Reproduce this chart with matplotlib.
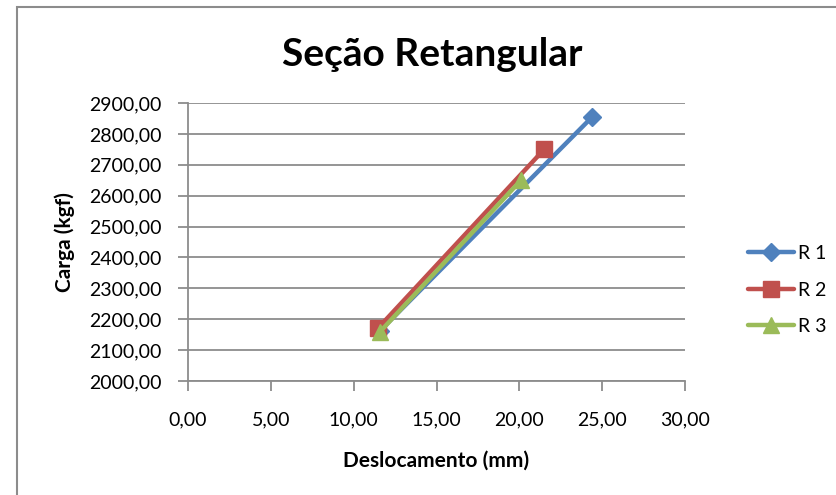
import matplotlib
matplotlib.use("Agg")
import matplotlib.pyplot as plt
from matplotlib.patches import Rectangle
from matplotlib.ticker import FuncFormatter, MultipleLocator

plt.rcParams['font.family'] = ['Lato', 'DejaVu Sans']

# data
r1_x = [11.6, 24.4]
r1_y = [2163, 2855]
r2_x = [11.45, 21.5]
r2_y = [2170, 2750]
r3_x = [11.6, 20.1]
r3_y = [2160, 2650]

series = [
    ("R 1", r1_x, r1_y, "#4F81BD", "D"),
    ("R 2", r2_x, r2_y, "#C0504D", "s"),
    ("R 3", r3_x, r3_y, "#9BBB59", "^"),
]

fig = plt.figure(figsize=(8.36, 4.95), dpi=100)
W, H = 836, 495
ax = fig.add_axes([188 / W, 1 - 381 / H, (685 - 188) / W, (381 - 103) / H])

# chart frame
fig.patches.append(Rectangle((17 / W, -0.05), 1.05, 1 - 7 / H + 0.05,
                             transform=fig.transFigure, fill=False,
                             edgecolor="#8c8c8c", linewidth=1.5))

for name, xs, ys, col, mk in series:
    ms = 9 if mk == "D" else 11
    ax.plot(xs, ys, color=col, lw=3.2, marker=mk, markersize=ms,
            markeredgecolor=col, label=name, solid_capstyle="round")

ax.set_xlim(0, 30)
ax.set_ylim(2000, 2900)
ax.xaxis.set_major_locator(MultipleLocator(5))
ax.yaxis.set_major_locator(MultipleLocator(100))
fmt = FuncFormatter(lambda v, p: f"{v:.2f}".replace(".", ","))
ax.xaxis.set_major_formatter(fmt)
ax.yaxis.set_major_formatter(fmt)

ax.grid(axis="y", color="#8c8c8c", lw=1.3)
ax.set_axisbelow(True)
for s in ["top", "right"]:
    ax.spines[s].set_visible(False)
for s in ["left", "bottom"]:
    ax.spines[s].set_color("#8c8c8c")
    ax.spines[s].set_linewidth(1.3)
ax.tick_params(axis="y", direction="out", length=7, width=1.3, color="#8c8c8c",
               labelsize=14, pad=12)
ax.tick_params(axis="x", direction="out", length=7, width=1.3, color="#8c8c8c",
               labelsize=14, pad=15)

ax.set_xlabel("Deslocamento (mm)", fontsize=15, fontweight="bold", labelpad=16)
ax.set_ylabel("Carga (kgf)", fontsize=15, fontweight="bold", labelpad=10)
fig.text(432 / W, 1 - 55 / H, "Seção Retangular", ha="center", va="center",
         fontsize=28, fontweight="bold")

fig.legend(loc="center left", bbox_to_anchor=(730 / W, 1 - 290 / H), frameon=False,
           fontsize=14, handlelength=2.4, handletextpad=0.2, labelspacing=1.0)

fig.savefig("out.png", dpi=100)
